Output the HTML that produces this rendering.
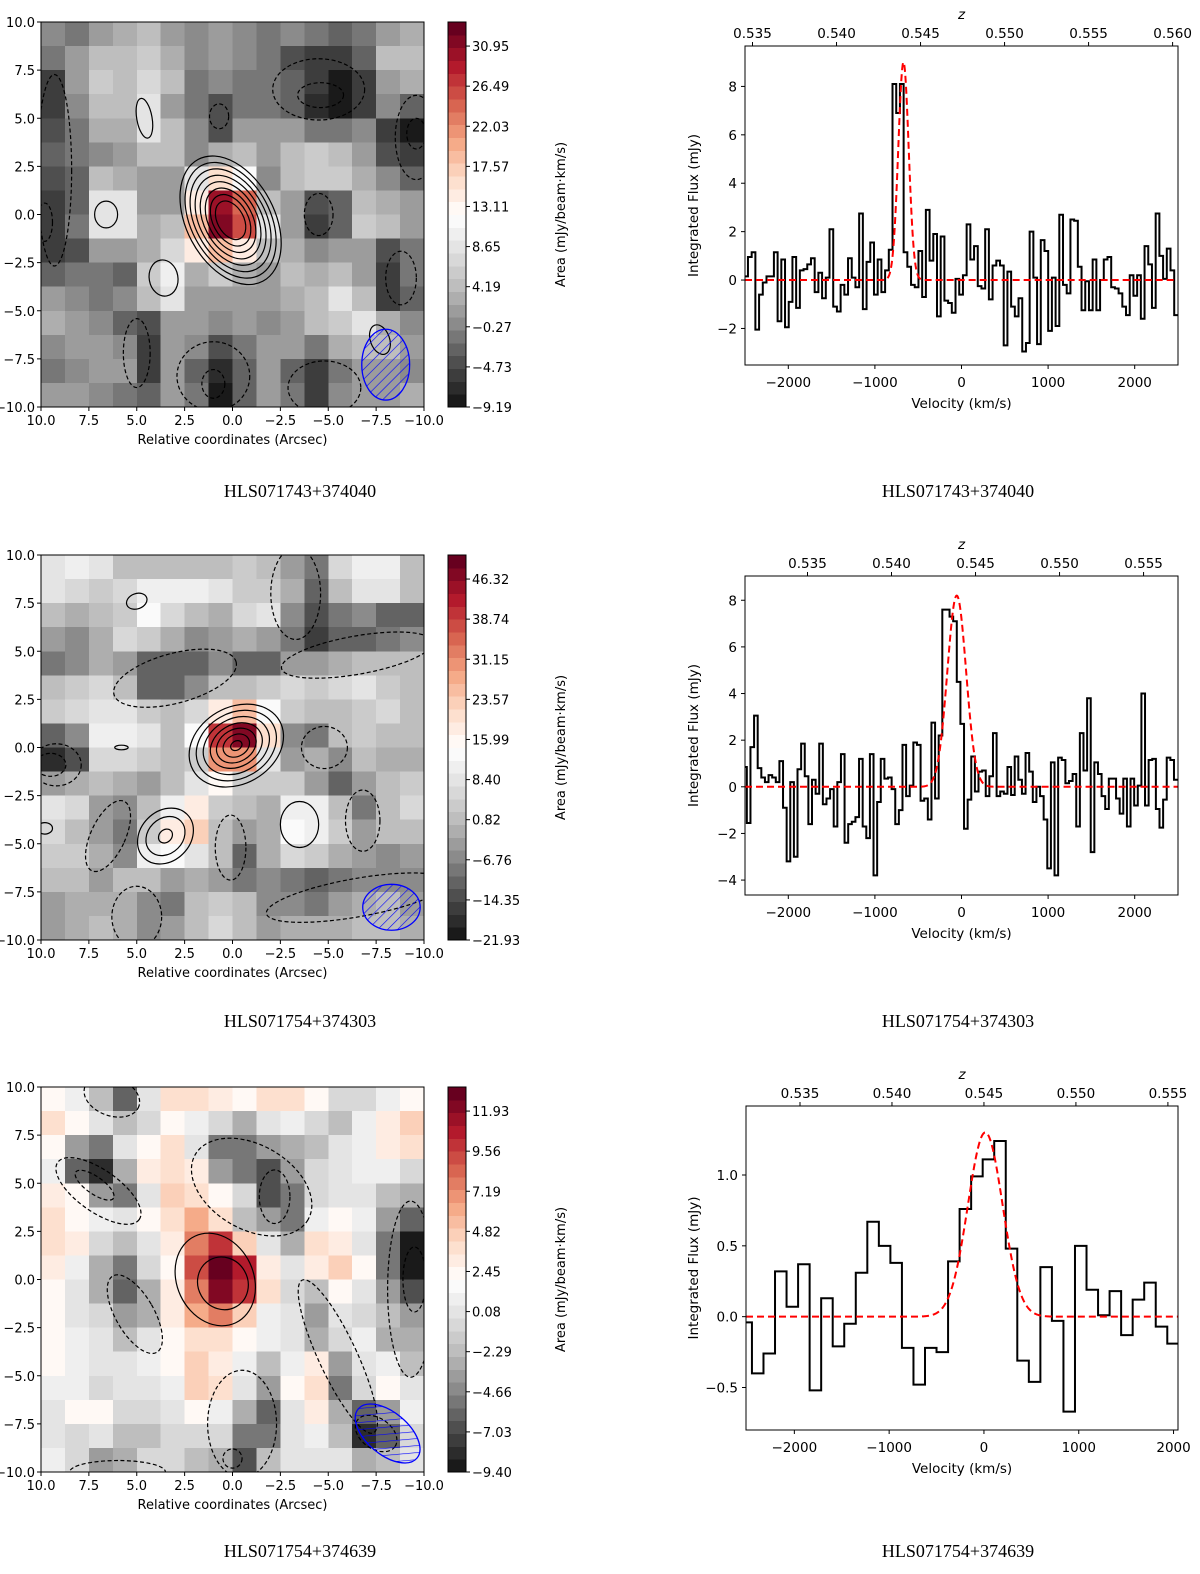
<!DOCTYPE html>
<html><head><meta charset="utf-8"><style>
html,body{margin:0;padding:0;background:#fff;}
svg{display:block;font-family:"DejaVu Sans","Liberation Sans",sans-serif;}
.cap{font-family:"Liberation Serif",serif;font-size:18px;}
</style></head><body>
<svg id="fig" width="1200" height="1574" viewBox="0 0 1200 1574" xmlns="http://www.w3.org/2000/svg">
<defs>
<pattern id="hatch" patternUnits="userSpaceOnUse" width="7" height="7" patternTransform="rotate(45)">
<line x1="0" y1="0" x2="0" y2="7" stroke="#0000ff" stroke-width="1.2"/></pattern>
</defs>
<text class="cap" x="300" y="497" text-anchor="middle">HLS071743+374040</text>
<text class="cap" x="958" y="497" text-anchor="middle">HLS071743+374040</text>
<text class="cap" x="300" y="1027" text-anchor="middle">HLS071754+374303</text>
<text class="cap" x="958" y="1027" text-anchor="middle">HLS071754+374303</text>
<text class="cap" x="300" y="1557" text-anchor="middle">HLS071754+374639</text>
<text class="cap" x="958" y="1557" text-anchor="middle">HLS071754+374639</text>
</svg>
<script>
// ---------- data ----------
const map1Grid = [
[0,-2,2,3,4,2,0,1,0,-1,0,-1,-3,-2,2,3],
[-1,2,5,5,6,3,0,2,0,-1,-4,-5,-5,-3,4,5],
[-5,1,6,5,7,4,-1,0,-1,-2,-3,-6,-8,-6,2,3],
[-5,0,4,4,9,1,-2,-4,-1,-1,-3,-7,-8,-5,0,-3],
[-4,-1,3,3,8,4,0,-4,2,2,1,-1,-2,0,-5,-8],
[-3,-2,0,1,5,4,0,3,4,2,4,6,5,2,-4,-6],
[-4,-3,4,3,1,2,8,16,12,0,5,6,6,3,0,-3],
[-6,-3,8,9,2,2,14,30,24,4,1,-4,-3,5,3,1],
[-6,-2,8,8,3,4,18,32,26,8,2,-5,-3,6,4,2],
[-5,-4,1,2,3,7,14,18,14,4,3,0,2,1,-4,-1],
[-3,-2,-1,-3,6,10,3,6,3,2,4,3,5,1,-6,-2],
[2,0,-1,0,4,8,2,1,2,1,3,5,8,4,-5,-3],
[3,2,0,-3,-4,1,1,0,1,0,2,5,6,8,3,0],
[0,1,2,0,-5,2,0,-4,-2,1,2,-1,3,5,4,2],
[-1,0,2,1,-5,1,-3,-7,-3,1,-3,-5,-1,2,1,0],
[1,2,0,-1,-3,1,-2,-8,-3,1,-2,-5,0,1,2,3]];
const map2Grid = [
[8,10,8,2,2,2,0,2,4,2,-4,-8,6,10,10,2],
[8,6,4,5,10,12,10,8,4,4,-2,-10,2,8,8,0],
[0,-2,0,4,14,6,0,-2,6,8,-6,-14,-8,-6,-10,-12],
[-4,-6,-2,6,4,-2,-6,-4,-2,-4,-8,-16,-12,-10,-8,-6],
[-8,-6,-2,-4,-10,-12,-10,-6,-10,-10,-4,-4,-2,0,2,0],
[0,4,6,2,-10,-12,-6,0,2,4,6,4,6,8,4,2],
[4,6,8,8,4,2,6,18,26,14,4,0,2,4,6,2],
[-10,-6,12,10,8,2,14,40,48,20,-6,-8,0,4,2,0],
[-18,-14,6,6,4,0,4,30,30,8,-4,-2,-6,0,-2,-2],
[-4,-2,2,-2,-4,0,8,16,4,4,4,-4,-10,-4,0,4],
[8,6,-4,-6,2,12,18,4,2,-2,10,12,0,-8,2,6],
[6,2,-4,-8,4,18,24,2,-4,-2,14,12,4,-4,0,2],
[4,4,-2,-6,10,14,8,0,-10,-2,6,4,-2,-4,-6,-4],
[2,0,-4,0,2,-4,-2,-4,-8,-6,-8,-10,-8,-6,-6,-6],
[-4,-2,-2,-2,-6,-8,2,4,0,-6,-6,-8,-4,-2,0,-4],
[-4,-2,0,-2,-6,-4,2,6,2,-4,-2,-2,-2,0,2,-2]];
const map3Grid = [
[2,1,-2,-6,0,4,4,3,2,4,4,2,-1,-1,1,2],
[4,2,0,-2,-1,2,1,-1,-3,0,1,-1,-2,1,3,5],
[2,-4,-5,0,2,4,0,-5,-5,-4,-3,-2,0,1,3,4],
[1,-6,-8,-3,3,4,3,-4,-5,-7,-4,-1,0,1,1,-1],
[3,2,-4,-5,0,5,4,2,-1,-7,-5,-1,0,0,-2,-3],
[4,2,1,0,2,4,6,4,-2,-4,-5,1,2,1,-4,-6],
[4,3,-1,-2,0,3,8,10,5,0,-3,4,3,0,-5,-9],
[3,1,-3,-5,-1,2,9,13,11,3,0,3,5,2,-5,-9],
[2,0,-3,-6,-3,3,8,12,10,4,-1,-2,2,0,-4,-7],
[2,0,-1,-4,-3,3,6,8,5,1,0,-4,0,-1,-2,-4],
[2,1,0,-2,0,2,4,4,2,1,0,-3,-1,1,-3,-3],
[2,1,0,0,1,2,5,3,1,-2,1,3,-4,0,1,-2],
[1,1,-1,0,0,1,5,4,0,-4,2,4,-5,-1,2,0],
[0,2,2,-1,-1,0,2,1,-3,-6,0,3,-3,-6,-4,1],
[0,-1,0,-2,-2,-1,-1,-1,-5,-5,0,1,-2,-8,-6,-1],
[1,-1,-4,-3,-1,-1,-2,-3,-7,-2,0,0,0,-3,-2,0]];
const map1Ticks = [-9.19,-4.73,-0.27,4.19,8.65,13.11,17.57,22.03,26.49,30.95];
const map2Ticks = [-21.93,-14.35,-6.76,0.82,8.40,15.99,23.57,31.15,38.74,46.32];
const map3Ticks = [-9.40,-7.03,-4.66,-2.29,0.08,2.45,4.82,7.19,9.56,11.93];
const spec1Flux = [0.2,-1.45,-1.15,0.15,0.95,1.15,-2.05,-0.6,-0.1,0.15,0.15,1.15,-1.7,0.85,-1.95,-0.9,0.95,-1.15,0.4,0.45,0.65,0.9,-0.5,0.3,-0.75,0.1,2.1,-1.1,-1.3,-0.2,-0.6,0.9,0.1,-0.3,2.75,-1.2,0.75,1.55,-0.6,0.85,-0.5,0.4,1.25,8.1,6.9,8.1,1.15,0.55,-0.2,-0.3,1.2,-0.7,2.9,0.8,1.9,-1.5,1.8,-0.85,-0.95,-1.35,0.05,-0.6,0.2,2.3,0.85,1.4,-0.25,-0.35,2.1,-0.8,0.6,0.8,0.6,-2.7,0.35,-1.1,-1.5,-0.75,-2.95,-2.6,2.0,0.1,-2.65,1.65,1.2,-2.1,0.1,-1.9,2.7,-0.2,-0.55,2.5,2.45,0.55,-1.25,-0.05,-1.25,0.85,-1.25,0.0,0.85,0.95,-0.3,-0.35,-0.55,-1.1,-1.45,0.2,-0.65,0.2,-1.6,1.4,0.65,-1.15,2.75,1.0,0.05,1.3,0.4,-1.45];
const spec2Flux = [1.45,1.15,1.65,0.85,-1.55,1.7,3.05,0.8,0.4,0.2,0.5,0.4,0.2,1.1,-0.9,-3.2,0.2,-3.0,0.75,1.85,0.45,-1.6,0.3,-0.3,1.85,-0.75,-0.5,-0.1,-1.7,0.2,1.4,-2.4,-1.6,-1.5,-1.3,1.2,-1.7,-2.2,1.4,-3.8,-0.65,1.2,0.35,0.4,-0.1,-1.6,-1.0,1.8,-0.4,0.05,1.9,1.8,-0.6,-0.5,-1.4,2.75,-0.5,2.2,7.6,7.6,7.3,7.1,4.5,2.7,-1.8,-0.55,1.3,-0.2,0.65,0.7,-0.4,0.45,2.3,-0.4,-0.2,-0.3,0.85,-0.35,1.3,0.3,-0.3,1.45,0.65,-0.65,0.0,-0.4,-1.4,-3.5,1.05,-3.8,1.25,1.15,0.15,0.25,0.55,-1.7,2.3,0.7,3.8,-2.8,1.05,0.55,-0.4,-0.95,0.35,0.35,-0.5,-1.15,0.35,-1.7,0.35,-0.8,0.05,4.0,-0.8,1.15,1.2,-0.95,-1.75,-0.55,1.25,1.15,0.3];
const spec3Flux = [-0.04,-0.4,-0.26,0.32,0.07,0.37,-0.52,0.13,-0.21,-0.05,0.31,0.67,0.5,0.38,-0.22,-0.48,-0.22,-0.25,0.39,0.76,0.99,1.11,1.24,0.48,-0.31,-0.46,0.35,-0.03,-0.67,0.5,0.19,0.01,0.18,-0.13,0.12,0.24,-0.07,-0.19];
const spec1Fit = [9.0,-670,60];   // amplitude, centre, sigma
const spec2Fit = [8.2,-55,108];
const spec3Fit = [1.3,14,183];
const spec1YTicks = [-2,0,2,4,6,8];
const spec2YTicks = [-4,-2,0,2,4,6,8];
const spec3YTicks = [-0.5,0.0,0.5,1.0];
const spec1ZTicks = [0.535,0.540,0.545,0.550,0.555,0.560];
const spec2ZTicks = [0.535,0.540,0.545,0.550,0.555];
const spec3ZTicks = [0.535,0.540,0.545,0.550,0.555];
const velTicks12 = [-2000,-1000,0,1000,2000];
const velTicks3 = [-2000,-1000,0,1000,2000];
const mapTicks = [10,7.5,5,2.5,0,-2.5,-5,-7.5,-10];

// ---------- helpers ----------
const NS = "http://www.w3.org/2000/svg";
const svg = document.getElementById('fig');
function mk(tag, attrs, parent, txt){
  const e = document.createElementNS(NS, tag);
  for (const k in attrs) e.setAttribute(k, attrs[k]);
  if (txt !== undefined) e.textContent = txt;
  (parent || svg).appendChild(e);
  return e;
}
const stops = ['#1a1a1a','#4d4d4d','#878787','#bababa','#e0e0e0','#ffffff','#fddbc7','#f4a582','#d6604d','#b2182b','#67001f'];
function hex(c){return [parseInt(c.substr(1,2),16),parseInt(c.substr(3,2),16),parseInt(c.substr(5,2),16)];}
function cmap(t){
  t = Math.max(0, Math.min(1, t));
  t = Math.min(29, Math.floor(t*30)) / 29; // discrete levels like contourf colorbar
  const p = t*(stops.length-1), i = Math.min(stops.length-2, Math.floor(p)), f = p-i;
  const a = hex(stops[i]), b = hex(stops[i+1]);
  return 'rgb('+a.map((v,k)=>Math.round(v+(b[k]-v)*f)).join(',')+')';
}
function fmt(v){return (v<0?'\u2212':'')+Math.abs(v).toFixed(1);}

// ---------- maps ----------
function drawMap(idx, grid, ticks, top, contours, beam){
  const L = 41, R = 424, T = top, B = top + 385;
  const xS = a => L + (10 - a) * (R - L) / 20;
  const yS = a => T + (10 - a) * (B - T) / 20;
  const step = ticks[1] - ticks[0];
  const vmin = ticks[0], vmax = ticks[ticks.length-1] + step*0.6;
  const g = mk('g', {});
  
  
  const n = grid.length, cell = 20 / n;
  const cg = mk('g', {'shape-rendering':'crispEdges'}, g);
  
  
  grid.forEach((row, r) => row.forEach((v, c) => {
    const x0 = xS(10 - c*cell), x1 = xS(10 - (c+1)*cell), y0 = yS(10 - r*cell), y1 = yS(10 - (r+1)*cell);
    const rc = mk('rect', {x:x0, y:y0, width:x1-x0+0.5, height:y1-y0+0.5, fill:cmap((v - vmin)/(vmax - vmin))}, cg);
    
    
  }));
  const clipId = 'mclip' + idx;
  const cp = mk('clipPath', {id: clipId}, g); mk('rect', {x:L, y:T, width:R-L, height:B-T}, cp);
  const ctg = mk('g', {'clip-path':'url(#'+clipId+')', fill:'none', stroke:'#000', 'stroke-width':1.2}, g);
  
  
  const px = (R-L)/20;
  contours.forEach(c => {
    const scales = c[6] || [1];
    scales.forEach(s => {
      const e = mk('ellipse', {cx:xS(c[0]), cy:yS(c[1]), rx:c[2]*px*s, ry:c[3]*px*s,
        transform:'rotate('+(c[4]||0)+' '+xS(c[0])+' '+yS(c[1])+')'}, ctg);
      if (c[5]) e.setAttribute('stroke-dasharray', '4,2.5');
      
      
    });
  });
  const bm = mk('ellipse', {cx:xS(beam[0]), cy:yS(beam[1]), rx:beam[2]*px, ry:beam[3]*px,
    transform:'rotate('+beam[4]+' '+xS(beam[0])+' '+yS(beam[1])+')', fill:'url(#hatch)', stroke:'#0000ff', 'stroke-width':1.3}, ctg);
  
  
  mk('rect', {x:L, y:T, width:R-L, height:B-T, fill:'none', stroke:'#000', 'stroke-width':1}, g);
  mapTicks.forEach(t => {
    mk('line', {x1:xS(t), x2:xS(t), y1:B, y2:B+4, stroke:'#000'}, g);
    const xl = mk('text', {x:xS(t), y:B+18, 'font-size':13, 'text-anchor':'middle'}, g, fmt(t));
    
    
    mk('line', {x1:L-4, x2:L, y1:yS(t), y2:yS(t), stroke:'#000'}, g);
    const yl = mk('text', {x:L-6, y:yS(t)+5, 'font-size':13, 'text-anchor':'end'}, g, fmt(t));
    
    
  });
  const xt = mk('text', {x:(L+R)/2, y:B+37, 'font-size':13, 'text-anchor':'middle'}, g, 'Relative coordinates (Arcsec)');
  
  
  // colorbar
  const CL = 448, CR = 466;
  const cS = v => B - (v - vmin) / (vmax - vmin) * (B - T);
  const cb = mk('g', {'shape-rendering':'crispEdges'}, g);
  
  
  for (let i = 0; i < 30; i++) {
    const v0 = vmin + (vmax-vmin)*i/30, v1 = vmin + (vmax-vmin)*(i+1)/30;
    mk('rect', {x:CL, y:cS(v1), width:CR-CL, height:cS(v0)-cS(v1)+0.5, fill:cmap((i+0.5)/30)}, cb);
  }
  mk('rect', {x:CL, y:T, width:CR-CL, height:B-T, fill:'none', stroke:'#000'}, g);
  ticks.forEach(t => {
    mk('line', {x1:CR, x2:CR+4, y1:cS(t), y2:cS(t), stroke:'#000'}, g);
    const tl = mk('text', {x:CR+6, y:cS(t)+5, 'font-size':13}, g, (t<0?'\u2212':'')+Math.abs(t).toFixed(2));
    
    
  });
  const cy = (T+B)/2;
  const ct = mk('text', {x:565, y:cy, 'font-size':13, 'text-anchor':'middle', transform:'rotate(-90 565 '+cy+')'}, g, 'Area (mJy/beam\u00b7km/s)');
  
  
}

drawMap(1, map1Grid, map1Ticks, 22, [
 [0.1,-0.3,2.3,3.6,-28,false,[1,0.9,0.8,0.7,0.6,0.5,0.4,0.3]],
 [6.6,0,0.6,0.7,0,false],[3.6,-3.3,0.75,0.95,-10,false],[4.6,5.0,0.4,1.05,-10,false],[-7.7,-6.5,0.5,0.8,-20,false],
 [0.7,5.1,0.5,0.65,0,true],[-4.5,0,0.75,1.1,0,true],[-8.8,-3.3,0.8,1.4,0,true],[9.8,-0.4,0.4,1.0,0,true],
 [9.3,2.3,0.9,5.0,0,true],[-4.5,6.5,2.4,1.6,0,true],[-4.6,6.2,1.2,0.65,0,true],[-9.6,4.0,1.1,2.2,0,true],[-9.6,4.2,0.5,0.8,0,true],
 [5.0,-7.2,0.7,1.8,0,true],[1.0,-8.4,1.9,1.8,0,true],[1.0,-8.8,0.6,0.75,0,true],[-4.8,-9.0,1.9,1.4,0,true]
], [-8.0,-7.8,1.25,1.85,0]);

drawMap(2, map2Grid, map2Ticks, 555, [
 [-0.2,0.1,2.6,2.0,-30,false,[1,0.85,0.7,0.55,0.42,0.28,0.12]],
 [3.5,-4.6,1.6,1.3,-45,false,[1,0.7,0.25]],[-3.5,-4.0,1.0,1.2,0,false],[5.0,7.6,0.55,0.4,-20,false],[5.8,0,0.35,0.12,0,false],[9.8,-4.2,0.4,0.3,0,false],
 [9.2,-0.9,1.3,1.1,0,true],[9.5,-0.9,0.8,0.6,0,true],[3,3.6,3.3,1.3,-15,true],[-6.5,4.8,4.0,1.0,-10,true],[-3.3,8.0,1.3,2.4,0,true],
 [-6.8,-3.8,0.9,1.6,0,true],[-4.8,0.0,1.2,1.1,0,true],[6.5,-4.6,0.9,2.0,25,true],[0.1,-5.2,0.8,1.7,0,true],[-6.5,-7.8,4.8,1.0,-10,true],[5.0,-8.8,1.3,1.6,0,true]
], [-8.3,-8.3,1.5,1.2,0]);

drawMap(3, map3Grid, map3Ticks, 1087, [
 [0.9,0.0,2.0,2.5,-25,false],[0.5,-0.2,1.3,1.4,-30,false],
 [7.0,4.6,2.6,1.1,35,true],[7.2,4.9,1.2,0.45,35,true],[-1.0,4.8,3.4,2.2,30,true],[-2.2,4.3,0.8,1.4,0,true],
 [5.1,-1.8,1.0,2.3,-30,true],[-5.5,-4.0,1.0,4.4,-25,true],[-9.3,-0.5,1.2,4.6,0,true],[-9.5,0,0.6,1.7,0,true],
 [-0.5,-7.5,1.8,2.8,0,true],[0,-9.3,0.5,0.5,0,true],[6.0,-10,2.5,0.6,0,true],[-7.5,-8.0,1.2,0.8,35,true],[6.3,9.5,1.5,1.0,20,true]
], [-8.1,-8.0,2.0,1.1,40]);

// ---------- spectra ----------
function drawSpec(idx, flux, start, width, fit, cfg){
  const {L, R, T, B, xlim, ylim, yTicks, vTicks, zTicks, v545, kms, yfmt} = cfg;
  const xS = v => L + (v - xlim[0]) / (xlim[1] - xlim[0]) * (R - L);
  const yS = f => B - (f - ylim[0]) / (ylim[1] - ylim[0]) * (B - T);
  const g = mk('g', {});
  
  
  const clipId = 'sclip' + idx;
  const cp = mk('clipPath', {id: clipId}, g); mk('rect', {x:L, y:T, width:R-L, height:B-T}, cp);
  const pg = mk('g', {'clip-path':'url(#'+clipId+')'}, g);
  let d = '';
  flux.forEach((f, i) => {
    const x0 = xS(start + i*width), x1 = xS(start + (i+1)*width), y = yS(f);
    d += (i === 0 ? 'M' + x0 + ',' + y : 'L' + x0 + ',' + y) + 'L' + x1 + ',' + y;
  });
  const st = mk('path', {d:d, fill:'none', stroke:'#000', 'stroke-width':2}, pg);
  
  
  let gd = '';
  for (let v = xlim[0]; v <= xlim[1]; v += 5) {
    const f = fit[0] * Math.exp(-0.5 * Math.pow((v - fit[1]) / fit[2], 2));
    gd += (gd ? 'L' : 'M') + xS(v).toFixed(2) + ',' + yS(f).toFixed(2);
  }
  const gp = mk('path', {d:gd, fill:'none', stroke:'#ff0000', 'stroke-width':2, 'stroke-dasharray':'7,4'}, pg);
  
  
  mk('rect', {x:L, y:T, width:R-L, height:B-T, fill:'none', stroke:'#000', 'stroke-width':1}, g);
  vTicks.forEach(v => {
    mk('line', {x1:xS(v), x2:xS(v), y1:B, y2:B+4, stroke:'#000'}, g);
    const t = mk('text', {x:xS(v), y:B+22, 'font-size':13.5, 'text-anchor':'middle'}, g, (v<0?'\u2212':'')+Math.abs(v));
    
    
  });
  yTicks.forEach(f => {
    mk('line', {x1:L-4, x2:L, y1:yS(f), y2:yS(f), stroke:'#000'}, g);
    const t = mk('text', {x:L-8, y:yS(f)+5, 'font-size':13.5, 'text-anchor':'end'}, g, (f<0?'\u2212':'')+(yfmt ? Math.abs(f).toFixed(1) : Math.abs(f)));
    
    
  });
  zTicks.forEach(z => {
    const x = xS(v545 + (z - 0.545) * kms);
    if (x < L - 1 || x > R + 1) return;
    mk('line', {x1:x, x2:x, y1:T-4, y2:T, stroke:'#000'}, g);
    const t = mk('text', {x:x, y:T-8, 'font-size':13.5, 'text-anchor':'middle'}, g, z.toFixed(3));
    
    
  });
  const zt = mk('text', {x:(L+R)/2, y:T-27, 'font-size':13.5, 'font-style':'italic', 'text-anchor':'middle'}, g, 'z');
  
  
  const xt = mk('text', {x:(L+R)/2, y:B+43, 'font-size':13.5, 'text-anchor':'middle'}, g, 'Velocity (km/s)');
  
  
  const cy = (T+B)/2;
  const yt = mk('text', {x:698, y:cy, 'font-size':13.5, 'text-anchor':'middle', transform:'rotate(-90 698 '+cy+')'}, g, 'Integrated Flux (mJy)');
  
  
}
const KMS = 299792/1.545;
drawSpec(1, spec1Flux, -2637, 42.8, spec1Fit, {L:745, R:1178, T:46, B:365, xlim:[-2500,2500], ylim:[-3.51,9.67],
  yTicks:spec1YTicks, vTicks:velTicks12, zTicks:spec1ZTicks, v545:-473, kms:KMS});
drawSpec(2, spec2Flux, -2646, 41.8, spec2Fit, {L:745, R:1178, T:576, B:895, xlim:[-2500,2500], ylim:[-4.64,9.04],
  yTicks:spec2YTicks, vTicks:velTicks12, zTicks:spec2ZTicks, v545:162, kms:KMS});
drawSpec(3, spec3Flux, -2569, 121.7, spec3Fit, {L:746, R:1178, T:1106, B:1430, xlim:[-2510,2047], ylim:[-0.8,1.487],
  yTicks:spec3YTicks, vTicks:velTicks3, zTicks:spec3ZTicks, v545:0, kms:KMS, yfmt:true});
</script>
</body></html>
